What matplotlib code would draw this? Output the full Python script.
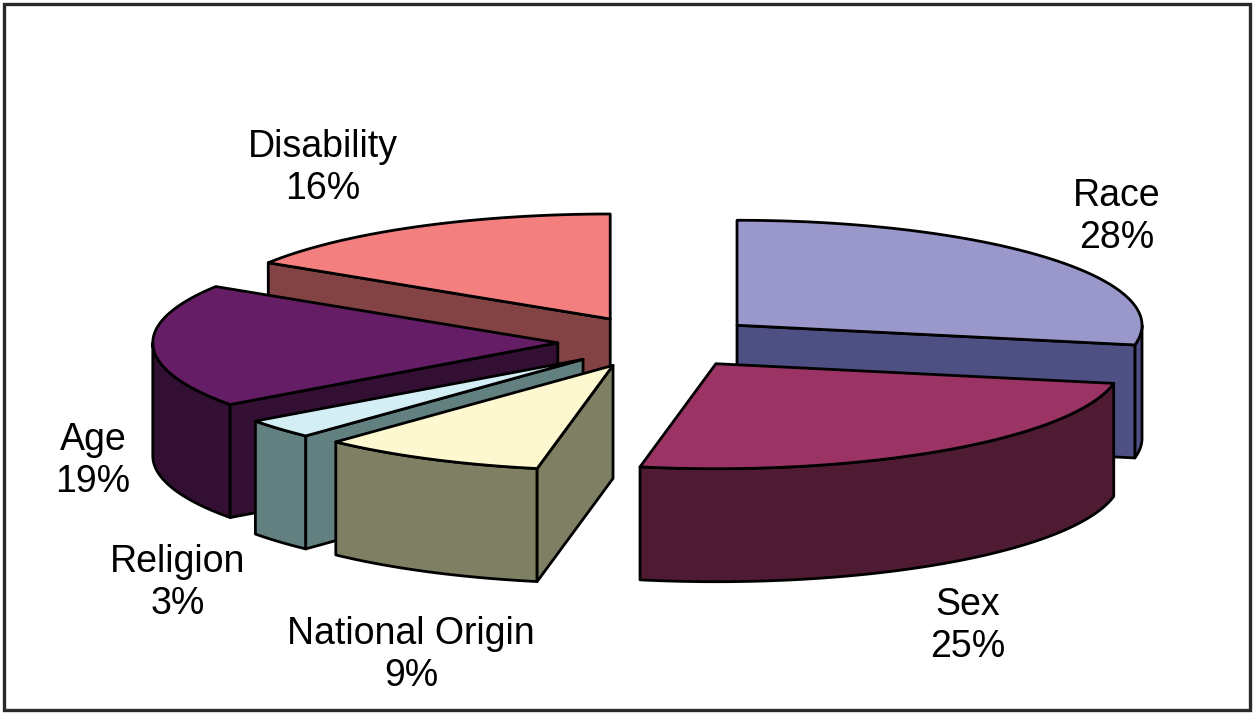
import numpy as np
import matplotlib
matplotlib.use("Agg")
import matplotlib.pyplot as plt
from matplotlib.patches import Polygon, Rectangle

# ---------------- data ----------------
categories = ["Race", "Sex", "National Origin", "Religion", "Age", "Disability"]
values = [28, 25, 9, 3, 19, 16]
top_colors = ["#9A97CB", "#9B3464", "#FDF8D0", "#D4EEF5", "#651E65", "#F47F7F"]
side_colors = ["#4E4F82", "#4E1B32", "#7F7F64", "#638080", "#330F33", "#834244"]

# ---------------- layout ----------------
W, H = 1254, 713
cx, cy = 659, 342          # pie centre (pixels)
rx, ry = 405, 105          # ellipse radii of top face
depth = 113                # thickness of the pie
explode = 0.25             # fraction of radius every slice is pulled out
start_angle = 90
label_pos = [(1117, 217), (968, 626), (411, 655), (178, 583), (93, 461), (323, 168)]

fig = plt.figure(figsize=(W / 100, H / 100), dpi=100)
ax = fig.add_axes([0, 0, 1, 1])
ax.set_xlim(0, W)
ax.set_ylim(H, 0)
ax.axis("off")

vals = np.array(values, dtype=float)
edges = start_angle - 360 * np.concatenate([[0], np.cumsum(vals / vals.sum())])

lw = 2.0
ec = "black"


def arc(ox, oy, a0, a1, dz=0, n=120):
    t = np.radians(np.linspace(a0, a1, n))
    return np.column_stack([ox + rx * np.cos(t), oy - ry * np.sin(t) + dz])


slices = []
for i in range(len(vals)):
    a_hi, a_lo = edges[i], edges[i + 1]
    mid = np.radians((a_hi + a_lo) / 2)
    ox = cx + explode * rx * np.cos(mid)
    oy = cy - explode * ry * np.sin(mid)
    slices.append((np.sin(mid), i, a_hi, a_lo, ox, oy))

# paint from back to front
slices.sort(key=lambda s: -s[0])

for _, i, a_hi, a_lo, ox, oy in slices:
    side = side_colors[i]
    top = top_colors[i]
    # front part of the curved outer wall
    for k in range(-2, 2):
        f0, f1 = 180 + 360 * k, 360 + 360 * k
        lo, hi = max(a_lo, f0), min(a_hi, f1)
        if hi > lo:
            upper = arc(ox, oy, lo, hi)
            lower = arc(ox, oy, hi, lo, dz=depth)
            ax.add_patch(Polygon(np.vstack([upper, lower]), closed=True,
                                 facecolor=side, edgecolor=ec, lw=lw,
                                 joinstyle="round", zorder=2))
    # radial cut faces that face the viewer
    for ang, visible in ((a_hi, np.cos(np.radians(a_hi)) < -1e-9),
                         (a_lo, np.cos(np.radians(a_lo)) > 1e-9)):
        if visible:
            t = np.radians(ang)
            px, py = ox + rx * np.cos(t), oy - ry * np.sin(t)
            poly = [(ox, oy), (px, py), (px, py + depth), (ox, oy + depth)]
            ax.add_patch(Polygon(poly, closed=True, facecolor=side,
                                 edgecolor=ec, lw=lw, joinstyle="round",
                                 zorder=2))
    # top face
    pts = np.vstack([[ox, oy], arc(ox, oy, a_lo, a_hi)])
    ax.add_patch(Polygon(pts, closed=True, facecolor=top, edgecolor=ec,
                         lw=lw, joinstyle="round", zorder=2))

# labels
for i, name in enumerate(categories):
    x, y = label_pos[i]
    ax.text(x, y, f"{name}\n{values[i]}%", ha="center", va="center",
            fontsize=27, family=["Liberation Sans", "DejaVu Sans"],
            linespacing=1.2, color="black", zorder=5)

# outer frame
ax.add_patch(Rectangle((4, 4), W - 8, H - 7, fill=False, edgecolor="#2a2a2a",
                       lw=2.4, zorder=6))

fig.savefig("out.png", dpi=100)
